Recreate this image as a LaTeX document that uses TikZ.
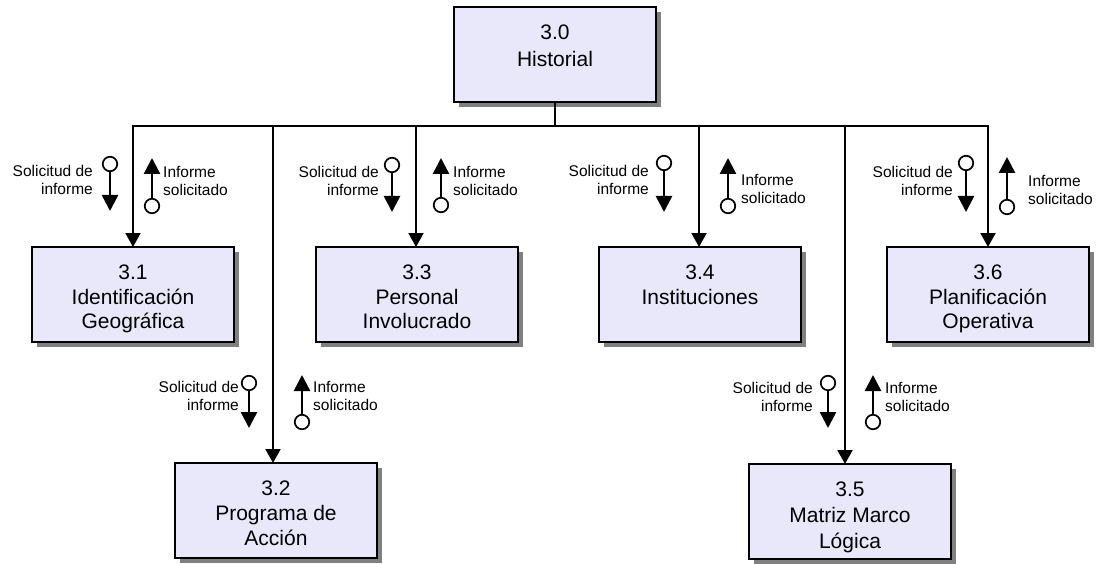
\documentclass[tikz,border=0pt]{standalone}
\usepackage{fontspec}
\setmainfont{Liberation Sans}
\usetikzlibrary{arrows.meta,shadows}
\definecolor{boxfill}{RGB}{232,232,250}
\definecolor{shadowgray}{RGB}{128,128,128}
% process box text: top aligned, fixed box size, optional line spacing
\newcommand\proctext[2][25]{\parbox[c][95pt][t]{202pt}{\centering\fontsize{21}{#1}\selectfont\rule{0pt}{32.5pt}#2}}
\begin{document}
\begin{tikzpicture}[x=1pt,y=-1pt,
  procbox/.style={draw=black, line width=1.4pt, fill=boxfill, inner sep=0pt, outer sep=0pt,
    anchor=north west,
    drop shadow={shadow xshift=5pt, shadow yshift=-5pt, fill=shadowgray, opacity=1}},
  busline/.style={line width=2pt, black},
  droparrow/.style={line width=2pt, -{Triangle[width=15pt,length=14pt]}},
  flowarrow/.style={line width=2.5pt, -{Triangle[width=16pt,length=16pt]}},
  flowdot/.style={circle, draw=black, line width=1.7pt, fill=white, minimum size=14.5pt, inner sep=0pt},
  flowlabel/.style={inner sep=0pt, font=\fontsize{15.5}{18.3}\selectfont},
  sollabel/.style={flowlabel, align=right, anchor=east},
  inflabel/.style={flowlabel, align=left, anchor=west}]
\useasboundingbox (0,0) rectangle (1100,564);

% process boxes
\node[procbox] (b30) at (454,7)   {\proctext[27]{3.0\\Historial}};
\node[procbox] (b31) at (32,247)  {\proctext[24.5]{3.1\\Identificación\\Geográfica}};
\node[procbox] (b33) at (316,247) {\proctext[24.5]{3.3\\Personal\\Involucrado}};
\node[procbox] (b34) at (599,247) {\proctext[24.5]{3.4\\Instituciones}};
\node[procbox] (b36) at (887,247) {\proctext[24.5]{3.6\\Planificación\\Operativa}};
\node[procbox] (b32) at (175,463) {\proctext[25]{3.2\\Programa de\\Acción}};
\node[procbox] (b35) at (749,464) {\proctext[26]{3.5\\Matriz Marco\\Lógica}};

% bus junctions
\coordinate (j31) at (133,126);
\coordinate (j32) at (273,126);
\coordinate (j33) at (416,126);
\coordinate (j34) at (699,126);
\coordinate (j35) at (845,126);
\coordinate (j36) at (988,126);

\draw[busline] (b30.south) -- (b30.south |- j31);
\draw[busline] ([xshift=-1pt]j31) -- ([xshift=1pt]j36);

\draw[droparrow] (j31) -- (j31 |- b31.north);
\draw[droparrow] (j32) -- (j32 |- b32.north);
\draw[droparrow] (j33) -- (j33 |- b33.north);
\draw[droparrow] (j34) -- (j34 |- b34.north);
\draw[droparrow] (j35) -- (j35 |- b35.north);
\draw[droparrow] (j36) -- (j36 |- b36.north);

% data couples: 3.1
\node[flowdot] (c31a) at (110,164) {};
\coordinate (t31a) at (110,211);
\draw[flowarrow] (c31a) -- (t31a);
\node[flowdot] (c31b) at (152,206) {};
\coordinate (t31b) at (152,158);
\draw[flowarrow] (c31b) -- (t31b);
\node[sollabel] (s31) at (93,180) {Solicitud de\\informe};
\node[inflabel] (i31) at (163,181) {Informe\\solicitado};

% data couples: 3.3
\node[flowdot] (c33a) at (392,165) {};
\coordinate (t33a) at (392,212);
\draw[flowarrow] (c33a) -- (t33a);
\node[flowdot] (c33b) at (441,205) {};
\coordinate (t33b) at (441,158);
\draw[flowarrow] (c33b) -- (t33b);
\node[sollabel] (s33) at (379,181) {Solicitud de\\informe};
\node[inflabel] (i33) at (453,181) {Informe\\solicitado};

% data couples: 3.4
\node[flowdot] (c34a) at (664,163) {};
\coordinate (t34a) at (664,212);
\draw[flowarrow] (c34a) -- (t34a);
\node[flowdot] (c34b) at (728,206) {};
\coordinate (t34b) at (728,158);
\draw[flowarrow] (c34b) -- (t34b);
\node[sollabel] (s34) at (649,180) {Solicitud de\\informe};
\node[inflabel] (i34) at (741,189) {Informe\\solicitado};

% data couples: 3.6
\node[flowdot] (c36a) at (966,163) {};
\coordinate (t36a) at (966,212);
\draw[flowarrow] (c36a) -- (t36a);
\node[flowdot] (c36b) at (1007,207) {};
\coordinate (t36b) at (1007,157);
\draw[flowarrow] (c36b) -- (t36b);
\node[sollabel] (s36) at (953,181) {Solicitud de\\informe};
\node[inflabel] (i36) at (1028,190) {Informe\\solicitado};

% data couples: 3.2
\node[flowdot] (c32a) at (249,383) {};
\coordinate (t32a) at (249,428);
\draw[flowarrow] (c32a) -- (t32a);
\node[flowdot] (c32b) at (302,422) {};
\coordinate (t32b) at (302,375);
\draw[flowarrow] (c32b) -- (t32b);
\node[sollabel] (s32) at (239,396) {Solicitud de\\informe};
\node[inflabel] (i32) at (313,396) {Informe\\solicitado};

% data couples: 3.5
\node[flowdot] (c35a) at (828,383) {};
\coordinate (t35a) at (828,428);
\draw[flowarrow] (c35a) -- (t35a);
\node[flowdot] (c35b) at (873,422) {};
\coordinate (t35b) at (873,375);
\draw[flowarrow] (c35b) -- (t35b);
\node[sollabel] (s35) at (813,397) {Solicitud de\\informe};
\node[inflabel] (i35) at (885,397) {Informe\\solicitado};
\end{tikzpicture}
\end{document}
